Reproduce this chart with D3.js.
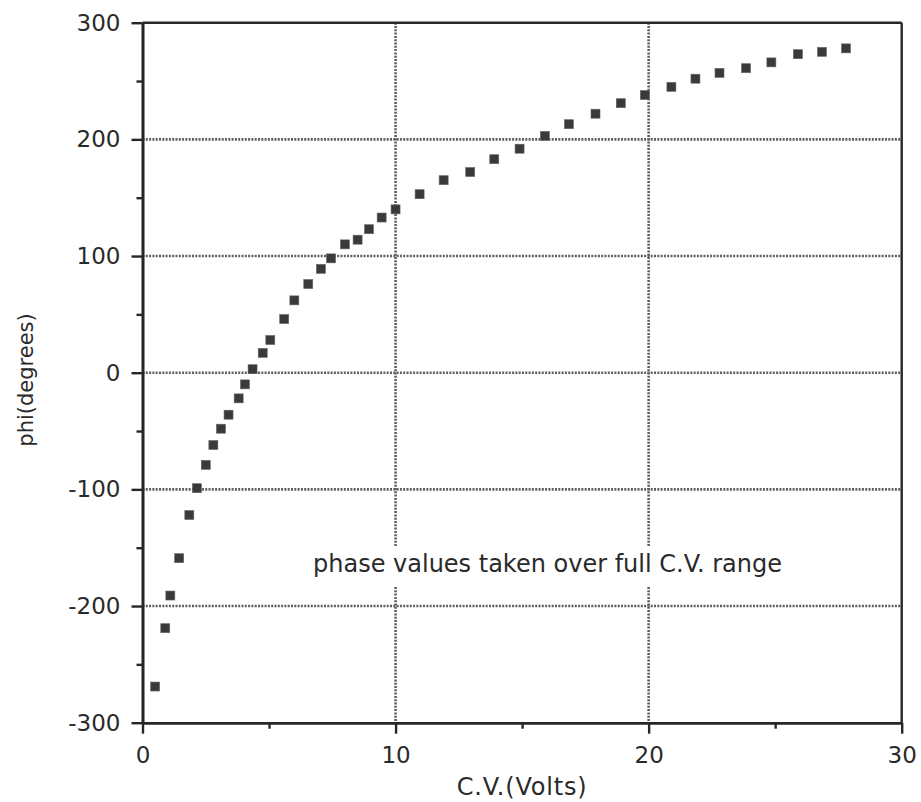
<!DOCTYPE html>
<html>
<head>
<meta charset="utf-8">
<script src="https://cdn.jsdelivr.net/npm/d3@7"></script>
<style>
  html, body { margin: 0; padding: 0; background: #fff; }
  svg { display: block; }
  text { font-family: "DejaVu Sans", sans-serif; fill: #2a2a2a; }
</style>
</head>
<body>
<svg id="chart" width="921" height="802"></svg>
<script>
// Control voltage (V) and measured phase (degrees)
const cvVolts = [0.5, 0.9, 1.1, 1.45, 1.85, 2.15, 2.5, 2.8, 3.1, 3.4, 3.8, 4.05, 4.35, 4.75, 5.05, 5.6, 6.0, 6.55, 7.05, 7.45,
                 8.0, 8.5, 8.95, 9.45, 10.0, 10.95, 11.9, 12.95, 13.9, 14.9, 15.9, 16.85, 17.9, 18.9, 19.85, 20.9, 21.85,
                 22.8, 23.85, 24.85, 25.9, 26.85, 27.8];
const phiDegrees = [-269, -219, -191, -159, -122, -99, -79, -62, -48, -36, -22, -10, 3, 17, 28, 46, 62, 76, 89, 98,
                    110, 114, 123, 133, 140, 153, 165, 172, 183, 192, 203, 213, 222, 231, 238, 245, 252,
                    257, 261, 266, 273, 275, 278];

const xMajorTicks = [0, 10, 20, 30];
const xMinorTicks = [5, 15, 25];
const yMajorTicks = [-300, -200, -100, 0, 100, 200, 300];
const yMinorTicks = [-250, -150, -50, 50, 150, 250];
const xGridTicks = [10, 20];
const yGridTicks = [-200, -100, 0, 100, 200];

const xTitle = "C.V.(Volts)";
const yTitle = "phi(degrees)";
const note = "phase values taken over full C.V. range";

const svg = d3.select("#chart");
const plotLeft = 142.5, plotRight = 901.7, plotTop = 22.7, plotBottom = 722.7;

const x = d3.scaleLinear().domain([0, 30]).range([plotLeft, plotRight]);
const y = d3.scaleLinear().domain([-300, 300]).range([plotBottom, plotTop]);

const gridColor = "#5e5e5e";
const axisColor = "#262626";

// Dotted grid lines
const grid = svg.append("g");
grid.selectAll("line.gy").data(yGridTicks).join("line")
  .attr("x1", plotLeft).attr("x2", plotRight)
  .attr("y1", d => y(d)).attr("y2", d => y(d))
  .attr("stroke", gridColor).attr("stroke-width", 2.6)
  .attr("stroke-dasharray", "2,1.3");
grid.selectAll("line.gx").data(xGridTicks).join("line")
  .attr("y1", plotTop).attr("y2", plotBottom)
  .attr("x1", d => x(d)).attr("x2", d => x(d))
  .attr("stroke", gridColor).attr("stroke-width", 2.6)
  .attr("stroke-dasharray", "2,1.3");

// Annotation with an opaque backing box
const noteG = svg.append("g");
const noteText = noteG.append("text")
  .attr("x", 313).attr("y", 572)
  .attr("font-size", 24)
  .text(note);
const bb = noteText.node().getBBox();
noteG.insert("rect", "text")
  .attr("x", bb.x - 4).attr("y", 546)
  .attr("width", bb.width + 8).attr("height", 41)
  .attr("fill", "#fff");

// Frame: top and right borders
svg.append("line").attr("x1", plotLeft).attr("x2", plotRight).attr("y1", plotTop).attr("y2", plotTop)
  .attr("stroke", axisColor).attr("stroke-width", 2.4);
svg.append("line").attr("x1", plotRight).attr("x2", plotRight).attr("y1", plotTop).attr("y2", plotBottom)
  .attr("stroke", axisColor).attr("stroke-width", 2.4);

// Axes
const yAxis = svg.append("g").attr("transform", `translate(${plotLeft},0)`)
  .call(d3.axisLeft(y).tickValues(yMajorTicks).tickSize(11).tickSizeOuter(0).tickPadding(11)
    .tickFormat(d => d < 0 ? "-" + Math.abs(d) : String(d)));
const yMinor = svg.append("g").attr("transform", `translate(${plotLeft},0)`)
  .call(d3.axisLeft(y).tickValues(yMinorTicks).tickSize(6).tickSizeOuter(0).tickFormat(""));
const xAxis = svg.append("g").attr("transform", `translate(0,${plotBottom})`)
  .call(d3.axisBottom(x).tickValues(xMajorTicks).tickSize(11).tickSizeOuter(0).tickPadding(13).tickFormat(d3.format("d")));
const xMinor = svg.append("g").attr("transform", `translate(0,${plotBottom})`)
  .call(d3.axisBottom(x).tickValues(xMinorTicks).tickSize(6).tickSizeOuter(0).tickFormat(""));

[yAxis, yMinor, xAxis, xMinor].forEach(g => {
  g.select(".domain").attr("stroke", axisColor).attr("stroke-width", 2.6);
  g.selectAll(".tick line").attr("stroke", axisColor).attr("stroke-width", 2.4);
  g.selectAll(".tick text").attr("font-size", 23).attr("fill", "#2a2a2a")
    .attr("font-family", "DejaVu Sans, sans-serif");
});

// Axis titles
svg.append("text").attr("x", x(15)).attr("y", 795)
  .attr("text-anchor", "middle").attr("font-size", 24).attr("letter-spacing", 0.8).text(xTitle);
svg.append("text")
  .attr("transform", `translate(33,380) rotate(-90)`)
  .attr("text-anchor", "middle").attr("font-size", 21).text(yTitle);

// Data markers
const size = 9;
svg.append("g").selectAll("rect").data(cvVolts.map((v, i) => [v, phiDegrees[i]])).join("rect")
  .attr("x", d => x(d[0]) - size / 2)
  .attr("y", d => y(d[1]) - size / 2)
  .attr("width", size).attr("height", size)
  .attr("fill", "#3a3a3a")
  .attr("stroke", "#666").attr("stroke-width", 0.6);
</script>
</body>
</html>
